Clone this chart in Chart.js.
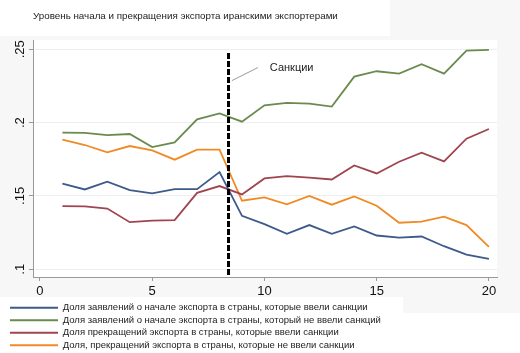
<meta charset="UTF-8">
<html>
<head>
<title>Уровень начала и прекращения экспорта</title>
<script src="https://cdn.jsdelivr.net/npm/chart.js@4.4.1/dist/chart.umd.min.js"></script>
<style>
  body { margin: 0; background: #ffffff; }
  #wrap { width: 520px; height: 353px; }
</style>
<script>
// years after start (x axis)
var periods = [1, 2, 3, 4, 5, 6, 7, 8, 9, 10, 11, 12, 13, 14, 15, 16, 17, 18, 19, 20];

// series values
var startSanc = [0.1583, 0.1544, 0.1597, 0.1540, 0.1517, 0.1546, 0.1546, 0.1662, 0.1364, 0.1307,
                 0.1241, 0.1301, 0.1241, 0.1292, 0.1230, 0.1216, 0.1223, 0.1157, 0.1100, 0.1071];
var startNoSanc = [0.1931, 0.1930, 0.1915, 0.1922, 0.1833, 0.1865, 0.2022, 0.2063, 0.2006, 0.2118,
                   0.2134, 0.2129, 0.2109, 0.2313, 0.2350, 0.2334, 0.2398, 0.2334, 0.2491, 0.2495];
var stopSanc = [0.1430, 0.1428, 0.1414, 0.1321, 0.1332, 0.1335, 0.1521, 0.1567, 0.1510, 0.1619,
                0.1635, 0.1624, 0.1612, 0.1708, 0.1653, 0.1733, 0.1794, 0.1735, 0.1890, 0.1956];
var stopNoSanc = [0.1883, 0.1847, 0.1797, 0.1840, 0.1810, 0.1747, 0.1815, 0.1815, 0.1467, 0.1490,
                  0.1442, 0.1500, 0.1440, 0.1496, 0.1433, 0.1317, 0.1324, 0.1358, 0.1301, 0.1153];

var seriesNames = [
  'Доля заявлений о начале экспорта в страны, которые ввели санкции',
  'Доля заявлений о начале экспорта в страны, который не ввели санкций',
  'Доля прекращений экспорта в страны, которые ввели санкции',
  'Доля, прекращений экспорта в страны, которые не ввели санкции'
];
var seriesColors = ['#3d5a8a', '#6b8a4f', '#a04550', '#f08a24'];

// sanctions marker
var sanctionX = [8.4, 8.4];
var sanctionY = [0.2475, 0.0947];
var pointerX = [8.55, 9.71];
var pointerY = [0.2286, 0.2375];
var sanctionLabel = 'Санкции';
var sanctionLabelPos = [10.24, 0.2375];

var chartTitle = 'Уровень начала и прекращения экспорта иранскими экспортерами';

var xTicks = [0, 5, 10, 15, 20];
var yTicks = [0.1, 0.15, 0.2, 0.25];
var yTickLabels = ['.1', '.15', '.2', '.25'];

function pairs(xs, ys) {
    return xs.map(function (x, i) { return { x: x, y: ys[i] }; });
}
</script>
</head>
<body>
<div id="wrap"><canvas id="chartCanvas" width="520" height="353"></canvas></div>
<script>
var fontFamily = '"Liberation Sans", Arial, sans-serif';

// backgrounds + title + the "Санкции" note
var decorPlugin = {
    id: 'decor',
    beforeDraw: function (chart) {
        var ctx = chart.ctx, a = chart.chartArea;
        ctx.save();
        ctx.fillStyle = '#f7f7f7';
        ctx.fillRect(0, 0, chart.width, chart.height);
        ctx.fillStyle = '#ffffff';
        ctx.fillRect(0, 0, 390, 36);
        ctx.fillRect(a.left, a.top, a.right - a.left, a.bottom - a.top);
        ctx.fillRect(0, 297, 403, 56);
        ctx.fillRect(403, 313, 117, 40);
        ctx.fillStyle = '#222222';
        ctx.font = '9.8px ' + fontFamily;
        ctx.textBaseline = 'middle';
        ctx.textAlign = 'left';
        ctx.fillText(chartTitle, 33, 16);
        ctx.restore();
    },
    afterDatasetsDraw: function (chart) {
        var ctx = chart.ctx;
        var sx = chart.scales.x, sy = chart.scales.y;
        ctx.save();
        ctx.fillStyle = '#222222';
        ctx.font = '11px ' + fontFamily;
        ctx.textBaseline = 'middle';
        ctx.textAlign = 'left';
        ctx.fillText(sanctionLabel, sx.getPixelForValue(sanctionLabelPos[0]), sy.getPixelForValue(sanctionLabelPos[1]));
        ctx.restore();
    }
};

var datasets = [
    {
        label: 'sanctions',
        data: pairs(sanctionX, sanctionY),
        borderColor: '#000000',
        borderWidth: 3,
        borderDash: [6, 2],
        pointRadius: 0
    },
    {
        label: 'pointer',
        data: pairs(pointerX, pointerY),
        borderColor: '#9a9a9a',
        borderWidth: 1,
        pointRadius: 0
    }
];
[startSanc, startNoSanc, stopSanc, stopNoSanc].forEach(function (vals, i) {
    datasets.push({
        label: seriesNames[i],
        data: pairs(periods, vals),
        borderColor: seriesColors[i],
        backgroundColor: seriesColors[i],
        borderWidth: 1.8,
        pointRadius: 0,
        tension: 0
    });
});

var myChart = new Chart(document.getElementById('chartCanvas'), {
    type: 'line',
    data: { datasets: datasets },
    plugins: [decorPlugin],
    options: {
        responsive: false,
        animation: false,
        layout: { padding: { left: 7, right: 23, top: 40, bottom: 0 } },
        plugins: {
            title: { display: false },
            tooltip: { enabled: false },
            legend: {
                position: 'bottom',
                align: 'start',
                maxHeight: 53,
                labels: {
                    filter: function (item) { return item.datasetIndex > 1; },
                    generateLabels: function (chart) {
                        var items = Chart.defaults.plugins.legend.labels.generateLabels(chart);
                        items.forEach(function (it) { it.lineWidth = 0; });
                        return items;
                    },
                    boxWidth: 48,
                    boxHeight: 2,
                    padding: 3,
                    color: '#222222',
                    font: { family: fontFamily, size: 9.5 }
                }
            }
        },
        scales: {
            x: {
                type: 'linear',
                min: -0.31,
                max: 20.36,
                afterBuildTicks: function (s) { s.ticks = xTicks.map(function (v) { return { value: v }; }); },
                afterFit: function (s) { s.height = 23; },
                grid: { drawOnChartArea: false, tickLength: 4, tickColor: '#999999' },
                border: { color: '#999999', width: 1 },
                ticks: {
                    color: '#111111',
                    padding: 3,
                    maxRotation: 0,
                    font: { family: fontFamily, size: 13 }
                }
            },
            y: {
                min: 0.0947,
                max: 0.2563,
                afterBuildTicks: function (s) { s.ticks = yTicks.map(function (v) { return { value: v }; }); },
                afterFit: function (s) { s.width = 26; },
                grid: { color: '#eeeeee', tickLength: 4, tickColor: '#999999' },
                border: { color: '#999999', width: 1 },
                ticks: {
                    color: '#111111',
                    padding: 0,
                    minRotation: 90,
                    maxRotation: 90,
                    crossAlign: 'center',
                    font: { family: fontFamily, size: 13 },
                    callback: function (value, index) { return yTickLabels[index]; }
                }
            }
        }
    }
});
</script>
</body>
</html>
